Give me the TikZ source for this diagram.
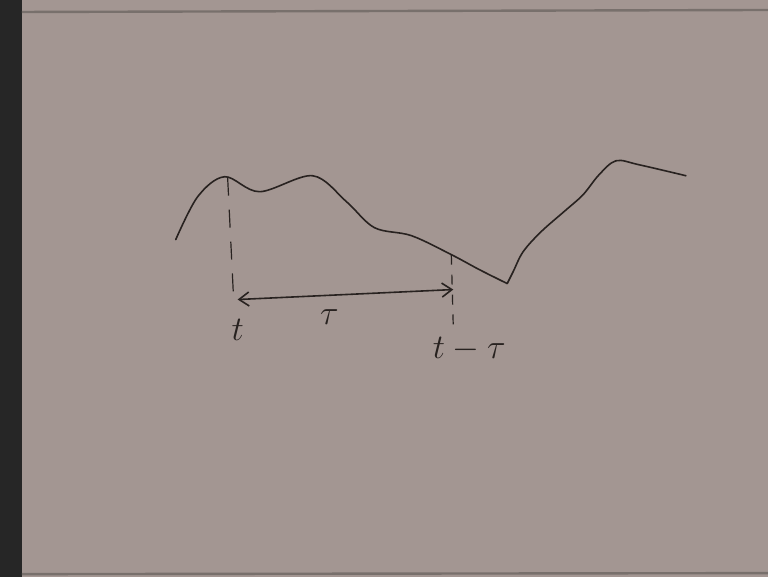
\documentclass[tikz,border=0pt]{standalone}
\usepackage{xcolor}
\definecolor{paperbg}{RGB}{163, 150, 146}
\definecolor{paperedge}{RGB}{120, 112, 108}
\definecolor{inkdark}{RGB}{40, 34, 32}
\usepackage{tikz}
\usetikzlibrary{positioning, arrows.meta, calc}

\begin{document}
\begin{tikzpicture}[x=0.5pt, y=-0.5pt, >={Straight Barb[length=5pt, width=7pt]}, every node/.style={font=\fontsize{17}{20}\selectfont, text=inkdark}]
    % Paper sheet and frame
    \fill [paperbg] (0,0) rectangle (769,578);
    \fill [black!85] (0,0) rectangle (22,578);
    \draw [paperedge, line width=1.2pt] (22,12) -- (769,10);
    \draw [paperedge, line width=1.2pt] (22,575) -- (769,574);
    \useasboundingbox (0,0) rectangle (769,578);

    % Points on the signal
    \coordinate (peakT) at (228,178);
    \coordinate (sigTT) at (452,255);
    \coordinate (dip) at (508,284);
    \coordinate (footT) at (234,300);
    \coordinate (footTT) at (454,290);
    \coordinate (endTT) at (454,328);

    % The signal, in two strokes meeting at the dip
    \draw [inkdark, thick, line cap=round, line join=round] plot [smooth, tension=0.55] coordinates {
        (176,240) (198,197) (225,177) (260,192) (313,176)
        (347,202) (375,228) (412,236) (452,255) (480,270) (508,284)
    };
    \draw [inkdark, thick, line cap=round] plot [smooth, tension=0.55] coordinates {
        (508,284) (514,272) (524,252) (542,232) (566,211) (584,195) (600,175)
        (617,161) (640,165) (687,176)
    };

    % Dashed drops to the axis
    \draw [inkdark, semithick, dash pattern=on 9pt off 7pt] (peakT) -- (footT);
    \draw [inkdark, semithick, dash pattern=on 5pt off 5pt] (sigTT) -- (endTT);

    % Lag between the two instants
    \draw [<->, inkdark, thick] ($(footT)+(4,0)$) -- (footTT);

    % Labels
    \node (labT) at (238,330) {$t$};
    \node (labTau) at (330,318) {$\tau$};
    \node (labTT) at (470,350) {$t-\tau$};
\end{tikzpicture}
\end{document}
